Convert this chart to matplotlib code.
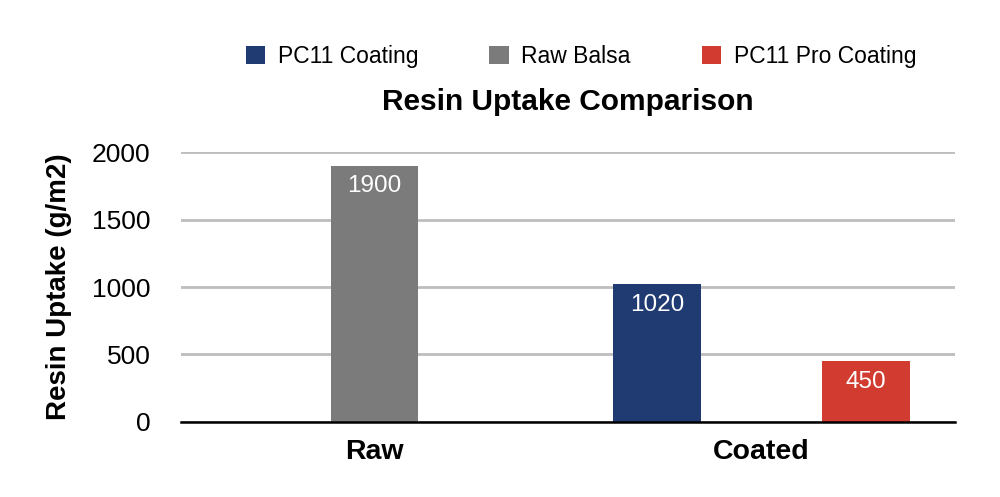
import matplotlib.pyplot as plt
import numpy as np

plt.rcParams['font.family'] = ['Liberation Sans', 'DejaVu Sans']

# data
groups = ["Raw", "Coated"]
series_names = ["PC11 Coating", "Raw Balsa", "PC11 Pro Coating"]
pc11_coating = [np.nan, 1020]
raw_balsa = [1900, np.nan]
pc11_pro = [np.nan, 450]
series_values = [pc11_coating, raw_balsa, pc11_pro]
colors = ["#203b72", "#7b7b7b", "#d13b30"]

fig = plt.figure(figsize=(10, 4.97), dpi=100)
ax = fig.add_axes([0.181, 0.151, 0.774, 0.543])

x = np.arange(len(groups))
offsets = [-0.27, 0.0, 0.27]
width = 0.227

for name, vals, off, col in zip(series_names, series_values, offsets, colors):
    ax.bar(x + off, vals, width=width, color=col, label=name, zorder=3)
    for xi, v in zip(x, vals):
        if not np.isnan(v):
            ax.annotate(f"{v:.0f}", (xi + off, v), xytext=(0, -15),
                        textcoords="offset points", ha="center", va="center",
                        color="white", fontsize=17.5, zorder=4)

ax.set_xlim(-0.5, 1.5)
ax.set_ylim(0, 2000)
ax.set_yticks([0, 500, 1000, 1500, 2000])
ax.set_xticks(x)
ax.set_xticklabels(groups, fontsize=20.5, fontweight="bold")
ax.tick_params(axis="y", length=0, pad=22, labelsize=19)
ax.tick_params(axis="x", length=0, pad=12)
ax.grid(axis="y", color="#bdbdbd", linewidth=2, zorder=0)
for s in ["top", "right", "left"]:
    ax.spines[s].set_visible(False)
ax.spines["bottom"].set_linewidth(1.8)
ax.spines["bottom"].set_zorder(5)

ax.set_ylabel("Resin Uptake (g/m2)", fontsize=20, fontweight="bold", labelpad=14)

fig.text(0.568, 0.795, "Resin Uptake Comparison", ha="center", va="center",
         fontsize=21.5, fontweight="bold")

fig.legend(loc="center", bbox_to_anchor=(0.581, 0.887), ncol=3, frameon=False,
           fontsize=16.5, handlelength=0.85, handleheight=0.85, handletextpad=0.55,
           columnspacing=3.1)

plt.savefig("out.png", dpi=100)
